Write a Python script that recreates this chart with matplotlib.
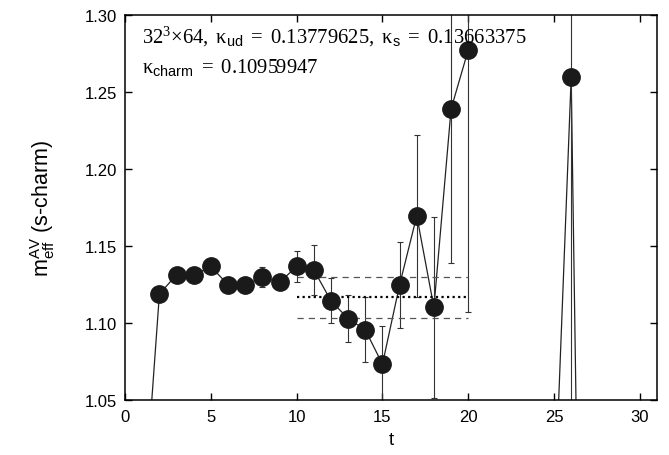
import numpy as np
import matplotlib
matplotlib.use("Agg")
import matplotlib.pyplot as plt

plt.rcParams['font.family'] = ['Liberation Sans', 'DejaVu Sans']
plt.rcParams['mathtext.fontset'] = 'custom'
plt.rcParams['mathtext.rm'] = 'Liberation Serif'
plt.rcParams['mathtext.it'] = 'Liberation Serif:italic'
plt.rcParams['mathtext.sf'] = 'Liberation Sans'

# effective mass per timeslice (NaN where undefined)
t = np.arange(1, 28)
meff = [0.964, 1.119, 1.1314, 1.131, 1.1368, 1.1249, 1.1245, 1.130, 1.1265,
        1.1368, 1.1346, 1.1145, 1.103, 1.0957, 1.0734, 1.1249, 1.1697, 1.1102,
        1.239, 1.2773, np.nan, np.nan, np.nan, np.nan, 0.972, 1.2595, 0.51]
err = [0.002, 0.002, 0.002, 0.002, 0.002, 0.002, 0.002, 0.0065, 0.002,
       0.0103, 0.016, 0.0146, 0.0155, 0.021, 0.0245, 0.028, 0.0525, 0.059,
       0.0997, 0.17, np.nan, np.nan, np.nan, np.nan, 0.0, 0.5, 0.0]

# plateau fit over t = 10..20
fit_range = [10, 20]
fit_val = 1.1167
fit_err = 0.013

fig, ax = plt.subplots(figsize=(6.69, 4.56), dpi=100)
fig.subplots_adjust(left=0.187, right=0.982, top=0.965, bottom=0.12)

ax.plot(t, meff, color='#222222', lw=0.9, zorder=2)
ax.errorbar(t, meff, yerr=err, fmt='none', ecolor='#333333', elinewidth=0.8,
            capsize=2.5, capthick=0.8, zorder=2)
ax.plot(t, meff, 'o', color='#1a1a1a', markersize=12.5, zorder=3)

ax.plot(fit_range, [fit_val, fit_val], color='black', ls=(0, (1, 1.5)), lw=1.6)
ax.plot(fit_range, [fit_val + fit_err] * 2, color='#555555', ls=(0, (5, 4)), lw=0.9)
ax.plot(fit_range, [fit_val - fit_err] * 2, color='#555555', ls=(0, (5, 4)), lw=0.9)

ax.set_xlim(0, 31)
ax.set_ylim(1.05, 1.30)
ax.set_xticks([0, 5, 10, 15, 20, 25, 30])
ax.set_yticks([1.05, 1.10, 1.15, 1.20, 1.25, 1.30])
ax.set_yticklabels(['1.05', '1.10', '1.15', '1.20', '1.25', '1.30'])
ax.tick_params(direction='in', top=True, right=True, length=5, width=1,
               labelsize=12, pad=6)
for s in ax.spines.values():
    s.set_linewidth(1.1)

ax.set_xlabel('t', fontsize=13.5, labelpad=5)
ax.set_ylabel(r'$\mathsf{m_{eff}^{AV}}$ (s-charm)', fontsize=15.5, labelpad=20)

ax.text(0.032, 0.978,
        r'$\mathrm{32^3{\times}64,\ κ_{\mathsf{ud}}\ =\ 0.13779625,\ κ_{\mathsf{s}}\ =\ 0.13663375}$',
        transform=ax.transAxes, fontsize=14.9, va='top', ha='left')
ax.text(0.032, 0.893, r'$\mathrm{κ_{\mathsf{charm}}\ =\ 0.10959947}$',
        transform=ax.transAxes, fontsize=14.9, va='top', ha='left')

fig.savefig('out.png', dpi=100)
